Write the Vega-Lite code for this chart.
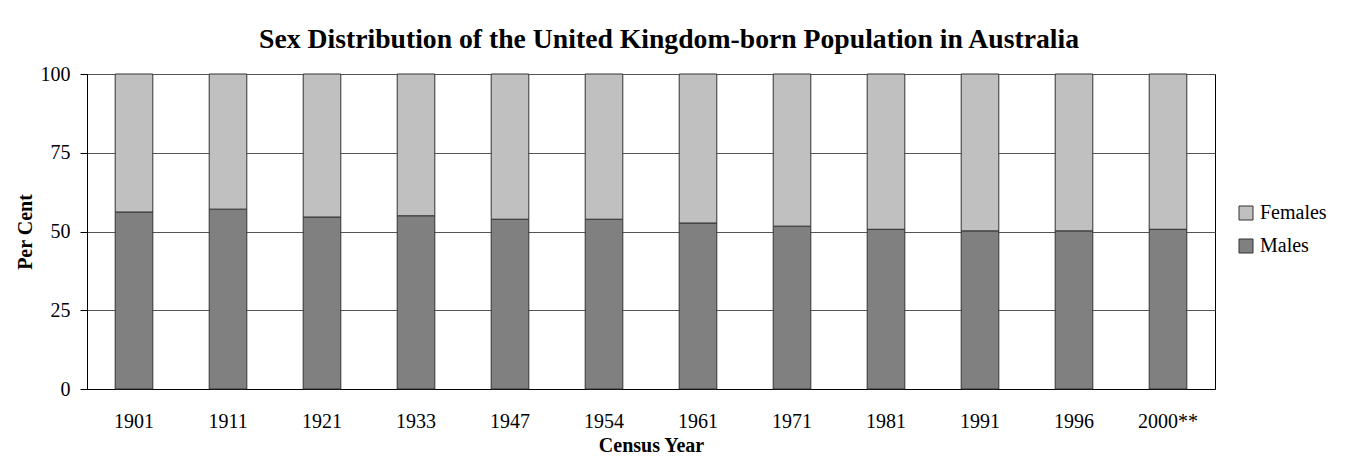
{
  "$schema": "https://vega.github.io/schema/vega-lite/v6.json",
  "width": 1128,
  "height": 315,
  "autosize": {"type": "none"},
  "padding": {"left": 87, "top": 74, "right": 151, "bottom": 73},
  "background": "white",
  "title": {
    "text": "Sex Distribution of the United Kingdom-born Population in Australia",
    "font": "Liberation Serif",
    "fontSize": 27.7,
    "fontWeight": "bold",
    "color": "black",
    "anchor": "middle",
    "dx": 18,
    "offset": 10
  },
  "data": {
    "values": [
      {"year": "1901", "sex": "Males", "pct": 56.2},
      {"year": "1901", "sex": "Females", "pct": 43.8},
      {"year": "1911", "sex": "Males", "pct": 57.1},
      {"year": "1911", "sex": "Females", "pct": 42.9},
      {"year": "1921", "sex": "Males", "pct": 54.6},
      {"year": "1921", "sex": "Females", "pct": 45.4},
      {"year": "1933", "sex": "Males", "pct": 55.0},
      {"year": "1933", "sex": "Females", "pct": 45.0},
      {"year": "1947", "sex": "Males", "pct": 53.9},
      {"year": "1947", "sex": "Females", "pct": 46.1},
      {"year": "1954", "sex": "Males", "pct": 53.9},
      {"year": "1954", "sex": "Females", "pct": 46.1},
      {"year": "1961", "sex": "Males", "pct": 52.7},
      {"year": "1961", "sex": "Females", "pct": 47.3},
      {"year": "1971", "sex": "Males", "pct": 51.7},
      {"year": "1971", "sex": "Females", "pct": 48.3},
      {"year": "1981", "sex": "Males", "pct": 50.7},
      {"year": "1981", "sex": "Females", "pct": 49.3},
      {"year": "1991", "sex": "Males", "pct": 50.2},
      {"year": "1991", "sex": "Females", "pct": 49.8},
      {"year": "1996", "sex": "Males", "pct": 50.2},
      {"year": "1996", "sex": "Females", "pct": 49.8},
      {"year": "2000**", "sex": "Males", "pct": 50.7},
      {"year": "2000**", "sex": "Females", "pct": 49.3}
    ]
  },
  "mark": {"type": "bar", "stroke": "#333333", "strokeWidth": 1},
  "encoding": {
    "x": {
      "field": "year",
      "type": "nominal",
      "sort": null,
      "scale": {"paddingInner": 0.6, "paddingOuter": 0.3},
      "axis": {
        "title": "Census Year",
        "labelAngle": 0,
        "ticks": false,
        "labelPadding": 22,
        "titlePadding": 4,
        "domainColor": "black",
        "labelFont": "Liberation Serif",
        "labelFontSize": 20,
        "labelColor": "black",
        "titleFont": "Liberation Serif",
        "titleFontSize": 20,
        "titleFontWeight": "bold",
        "titleColor": "black"
      }
    },
    "y": {
      "field": "pct",
      "type": "quantitative",
      "stack": "zero",
      "scale": {"domain": [0, 100], "nice": false},
      "axis": {
        "title": "Per Cent",
        "values": [0, 25, 50, 75, 100],
        "tickSize": 7,
        "tickColor": "black",
        "labelPadding": 10,
        "titlePadding": 5,
        "domainColor": "black",
        "grid": true,
        "gridColor": "#555555",
        "labelFont": "Liberation Serif",
        "labelFontSize": 20,
        "labelColor": "black",
        "titleFont": "Liberation Serif",
        "titleFontSize": 20,
        "titleFontWeight": "bold",
        "titleColor": "black"
      }
    },
    "color": {
      "field": "sex",
      "type": "nominal",
      "scale": {"domain": ["Females", "Males"], "range": ["#C0C0C0", "#808080"]},
      "legend": {
        "title": null,
        "orient": "none",
        "legendX": 1149,
        "legendY": 129,
        "symbolType": "square",
        "symbolSize": 196,
        "symbolStrokeColor": "#333333",
        "symbolStrokeWidth": 1,
        "labelFontSize": 20,
        "labelFont": "Liberation Serif",
        "labelColor": "black",
        "labelOffset": 4,
        "rowPadding": 13,
        "padding": 0
      }
    },
    "order": {"field": "sex", "sort": "descending"}
  },
  "config": {
    "font": "Liberation Serif",
    "view": {"stroke": "black", "strokeWidth": 1}
  }
}
